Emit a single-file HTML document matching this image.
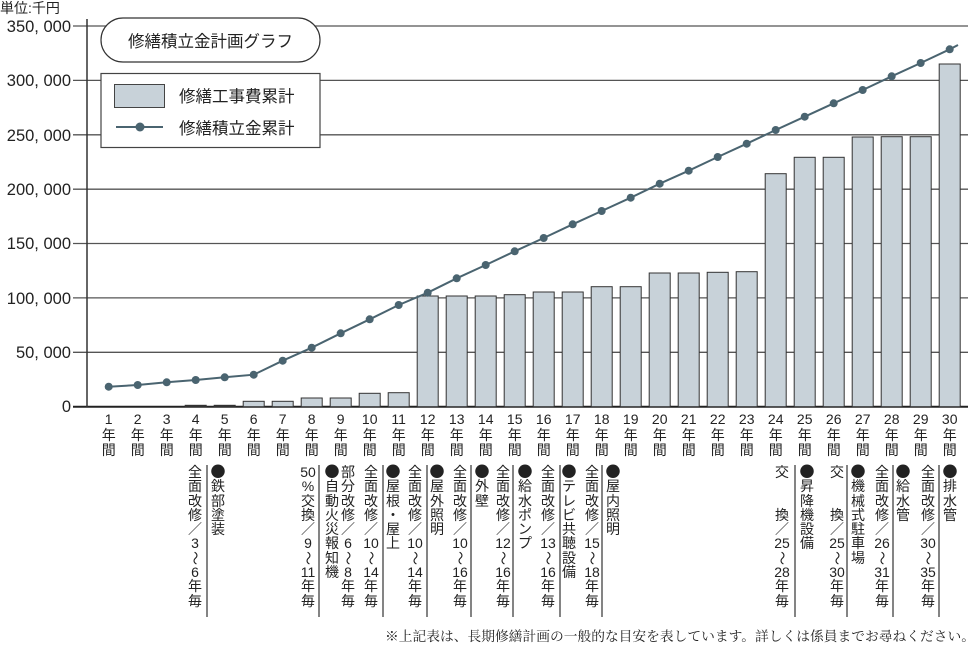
<!DOCTYPE html>
<html><head><meta charset="utf-8">
<style>
html,body{margin:0;padding:0;background:#fff;}
body{width:980px;height:647px;position:relative;overflow:hidden;font-family:"Liberation Sans","Noto Sans CJK JP",sans-serif;color:#222;}
svg{position:absolute;left:0;top:0;}
.col{position:absolute;top:465px;width:26px;margin-left:-13px;text-align:center;font-size:14px;line-height:14.3px;color:#222;}
.t{display:inline-block;transform:rotate(90deg);font-family:"Noto Sans CJK JP",sans-serif;}
.d{font-family:"Noto Sans CJK JP",sans-serif;font-size:15px;}
</style></head><body>
<svg width="980" height="647" viewBox="0 0 980 647" font-family="Liberation Sans, Noto Sans CJK JP, sans-serif">
<g stroke="#555" stroke-width="1.3">
<line x1="73" y1="26" x2="968" y2="26"/>
<line x1="73" y1="80.4" x2="968" y2="80.4"/>
<line x1="73" y1="134.8" x2="968" y2="134.8"/>
<line x1="73" y1="189.2" x2="968" y2="189.2"/>
<line x1="73" y1="243.5" x2="968" y2="243.5"/>
<line x1="73" y1="297.9" x2="968" y2="297.9"/>
<line x1="73" y1="352.3" x2="968" y2="352.3"/>
</g>
<line x1="73" y1="406.7" x2="968" y2="406.7" stroke="#222" stroke-width="2"/>
<line x1="87" y1="19" x2="87" y2="407" stroke="#333" stroke-width="1.5"/>
<g font-size="16.5" text-anchor="end" fill="#222">
<text x="71" y="32">350, 000</text>
<text x="71" y="86">300, 000</text>
<text x="71" y="141">250, 000</text>
<text x="71" y="195">200, 000</text>
<text x="71" y="249">150, 000</text>
<text x="71" y="304">100, 000</text>
<text x="71" y="358">50, 000</text>
<text x="71" y="412">0</text>
</g>
<text x="0" y="13" font-size="14" fill="#222">単位:千円</text>
<g fill="#c8d2d9" stroke="#333" stroke-width="1">
<rect x="185.2" y="405.3" width="21" height="1.4" fill="#333"/>
<rect x="214.2" y="405.3" width="21" height="1.4" fill="#333"/>
<rect x="243.2" y="401.3" width="21" height="5.4"/>
<rect x="272.2" y="401.3" width="21" height="5.4"/>
<rect x="301.2" y="398" width="21" height="8.7"/>
<rect x="330.2" y="398" width="21" height="8.7"/>
<rect x="359.2" y="393.3" width="21" height="13.4"/>
<rect x="388.2" y="392.7" width="21" height="14"/>
<rect x="417.2" y="296" width="21" height="110.7"/>
<rect x="446.2" y="296" width="21" height="110.7"/>
<rect x="475.2" y="296" width="21" height="110.7"/>
<rect x="504.2" y="294.7" width="21" height="112"/>
<rect x="533.2" y="292" width="21" height="114.7"/>
<rect x="562.2" y="292" width="21" height="114.7"/>
<rect x="591.2" y="286.7" width="21" height="120"/>
<rect x="620.2" y="286.7" width="21" height="120"/>
<rect x="649.2" y="273" width="21" height="133.7"/>
<rect x="678.2" y="273" width="21" height="133.7"/>
<rect x="707.2" y="272.3" width="21" height="134.4"/>
<rect x="736.2" y="271.7" width="21" height="135"/>
<rect x="765.2" y="173.7" width="21" height="233"/>
<rect x="794.2" y="157.3" width="21" height="249.4"/>
<rect x="823.2" y="157.3" width="21" height="249.4"/>
<rect x="852.2" y="137" width="21" height="269.7"/>
<rect x="881.2" y="136.7" width="21" height="270"/>
<rect x="910.2" y="136.7" width="21" height="270"/>
<rect x="939.2" y="64" width="21" height="342.7"/>
</g>
<polyline fill="none" stroke="#4a6470" stroke-width="2" points="108.7,386.7 137.7,385 166.7,382.3 195.7,380 224.7,377.3 253.7,374.7 282.7,360.7 311.7,347.7 340.7,333.3 369.7,319.3 398.7,305 427.7,292.7 456.7,278.3 485.7,265 514.7,251.3 543.7,238 572.7,224.3 601.7,211 630.7,197.7 659.7,183.7 688.7,170.7 717.7,157 746.7,143.7 775.7,130 804.7,116.7 833.7,103.3 862.7,90 891.7,76.3 920.7,63 949.7,49.3 958,45"/>
<g fill="#4a6470">
<circle cx="108.7" cy="386.7" r="4"/><circle cx="137.7" cy="385" r="4"/><circle cx="166.7" cy="382.3" r="4"/><circle cx="195.7" cy="380" r="4"/><circle cx="224.7" cy="377.3" r="4"/><circle cx="253.7" cy="374.7" r="4"/><circle cx="282.7" cy="360.7" r="4"/><circle cx="311.7" cy="347.7" r="4"/><circle cx="340.7" cy="333.3" r="4"/><circle cx="369.7" cy="319.3" r="4"/><circle cx="398.7" cy="305" r="4"/><circle cx="427.7" cy="292.7" r="4"/><circle cx="456.7" cy="278.3" r="4"/><circle cx="485.7" cy="265" r="4"/><circle cx="514.7" cy="251.3" r="4"/><circle cx="543.7" cy="238" r="4"/><circle cx="572.7" cy="224.3" r="4"/><circle cx="601.7" cy="211" r="4"/><circle cx="630.7" cy="197.7" r="4"/><circle cx="659.7" cy="183.7" r="4"/><circle cx="688.7" cy="170.7" r="4"/><circle cx="717.7" cy="157" r="4"/><circle cx="746.7" cy="143.7" r="4"/><circle cx="775.7" cy="130" r="4"/><circle cx="804.7" cy="116.7" r="4"/><circle cx="833.7" cy="103.3" r="4"/><circle cx="862.7" cy="90" r="4"/><circle cx="891.7" cy="76.3" r="4"/><circle cx="920.7" cy="63" r="4"/><circle cx="949.7" cy="49.3" r="4"/>
</g>
<rect x="101" y="18" width="219" height="44" rx="22" ry="22" fill="#fff" stroke="#333" stroke-width="1.2"/>
<text x="210.5" y="47" font-size="16.5" text-anchor="middle" fill="#222">修繕積立金計画グラフ</text>
<rect x="101" y="73.5" width="219" height="74" fill="#fff" stroke="#444" stroke-width="1.2"/>
<rect x="114.5" y="84.5" width="50" height="23" fill="#c8d2d9" stroke="#444" stroke-width="1"/>
<text x="179" y="102" font-size="16.5" fill="#222">修繕工事費累計</text>
<line x1="116" y1="127" x2="163" y2="127" stroke="#4a6470" stroke-width="2"/>
<circle cx="140" cy="127" r="4.5" fill="#4a6470"/>
<text x="179" y="134" font-size="16.5" fill="#222">修繕積立金累計</text>
<g font-size="14" text-anchor="middle" fill="#222">
<text x="108.7" y="424">1</text><text x="137.7" y="424">2</text><text x="166.7" y="424">3</text><text x="195.7" y="424">4</text><text x="224.7" y="424">5</text><text x="253.7" y="424">6</text><text x="282.7" y="424">7</text><text x="311.7" y="424">8</text><text x="340.7" y="424">9</text><text x="369.7" y="424">10</text><text x="398.7" y="424">11</text><text x="427.7" y="424">12</text><text x="456.7" y="424">13</text><text x="485.7" y="424">14</text><text x="514.7" y="424">15</text><text x="543.7" y="424">16</text><text x="572.7" y="424">17</text><text x="601.7" y="424">18</text><text x="630.7" y="424">19</text><text x="659.7" y="424">20</text><text x="688.7" y="424">21</text><text x="717.7" y="424">22</text><text x="746.7" y="424">23</text><text x="775.7" y="424">24</text><text x="804.7" y="424">25</text><text x="833.7" y="424">26</text><text x="862.7" y="424">27</text><text x="891.7" y="424">28</text><text x="920.7" y="424">29</text><text x="949.7" y="424">30</text>
</g>
<g font-size="14" text-anchor="middle" fill="#222">
<text x="108.7" y="440">年</text><text x="137.7" y="440">年</text><text x="166.7" y="440">年</text><text x="195.7" y="440">年</text><text x="224.7" y="440">年</text><text x="253.7" y="440">年</text><text x="282.7" y="440">年</text><text x="311.7" y="440">年</text><text x="340.7" y="440">年</text><text x="369.7" y="440">年</text><text x="398.7" y="440">年</text><text x="427.7" y="440">年</text><text x="456.7" y="440">年</text><text x="485.7" y="440">年</text><text x="514.7" y="440">年</text><text x="543.7" y="440">年</text><text x="572.7" y="440">年</text><text x="601.7" y="440">年</text><text x="630.7" y="440">年</text><text x="659.7" y="440">年</text><text x="688.7" y="440">年</text><text x="717.7" y="440">年</text><text x="746.7" y="440">年</text><text x="775.7" y="440">年</text><text x="804.7" y="440">年</text><text x="833.7" y="440">年</text><text x="862.7" y="440">年</text><text x="891.7" y="440">年</text><text x="920.7" y="440">年</text><text x="949.7" y="440">年</text>
<text x="108.7" y="455">間</text><text x="137.7" y="455">間</text><text x="166.7" y="455">間</text><text x="195.7" y="455">間</text><text x="224.7" y="455">間</text><text x="253.7" y="455">間</text><text x="282.7" y="455">間</text><text x="311.7" y="455">間</text><text x="340.7" y="455">間</text><text x="369.7" y="455">間</text><text x="398.7" y="455">間</text><text x="427.7" y="455">間</text><text x="456.7" y="455">間</text><text x="485.7" y="455">間</text><text x="514.7" y="455">間</text><text x="543.7" y="455">間</text><text x="572.7" y="455">間</text><text x="601.7" y="455">間</text><text x="630.7" y="455">間</text><text x="659.7" y="455">間</text><text x="688.7" y="455">間</text><text x="717.7" y="455">間</text><text x="746.7" y="455">間</text><text x="775.7" y="455">間</text><text x="804.7" y="455">間</text><text x="833.7" y="455">間</text><text x="862.7" y="455">間</text><text x="891.7" y="455">間</text><text x="920.7" y="455">間</text><text x="949.7" y="455">間</text>
</g>
<g stroke="#333" stroke-width="1.2">
<line x1="207" y1="465" x2="207" y2="617"/><line x1="319" y1="465" x2="319" y2="617"/><line x1="383" y1="465" x2="383" y2="617"/><line x1="427" y1="465" x2="427" y2="617"/><line x1="471" y1="465" x2="471" y2="617"/><line x1="513" y1="465" x2="513" y2="617"/><line x1="560" y1="465" x2="560" y2="617"/><line x1="602" y1="465" x2="602" y2="617"/><line x1="795" y1="465" x2="795" y2="617"/><line x1="847" y1="465" x2="847" y2="617"/><line x1="893" y1="465" x2="893" y2="617"/><line x1="939" y1="465" x2="939" y2="617"/>
</g>
<text x="975" y="641" font-size="13.4" text-anchor="end" textLength="590" lengthAdjust="spacingAndGlyphs" font-family="Liberation Serif, Noto Serif CJK SC, serif" fill="#222">※上記表は、長期修繕計画の一般的な目安を表しています。詳しくは係員までお尋ねください。</text>
</svg>
<div class="col" style="left:195px">全<br>面<br>改<br>修<br>／<br>3<br><span class="t">～</span><br>6<br>年<br>毎</div>
<div class="col" style="left:218px"><span class="d">●</span><br>鉄<br>部<br>塗<br>装</div>
<div class="col" style="left:308px">50<br>%<br>交<br>換<br>／<br>9<br><span class="t">～</span><br>11<br>年<br>毎</div>
<div class="col" style="left:332px"><span class="d">●</span><br>自<br>動<br>火<br>災<br>報<br>知<br>機</div>
<div class="col" style="left:348px">部<br>分<br>改<br>修<br>／<br>6<br><span class="t">～</span><br>8<br>年<br>毎</div>
<div class="col" style="left:371px">全<br>面<br>改<br>修<br>／<br>10<br><span class="t">～</span><br>14<br>年<br>毎</div>
<div class="col" style="left:393px"><span class="d">●</span><br>屋<br>根<br>・<br>屋<br>上</div>
<div class="col" style="left:415px">全<br>面<br>改<br>修<br>／<br>10<br><span class="t">～</span><br>14<br>年<br>毎</div>
<div class="col" style="left:437px"><span class="d">●</span><br>屋<br>外<br>照<br>明</div>
<div class="col" style="left:460px">全<br>面<br>改<br>修<br>／<br>10<br><span class="t">～</span><br>16<br>年<br>毎</div>
<div class="col" style="left:482px"><span class="d">●</span><br>外<br>壁</div>
<div class="col" style="left:503px">全<br>面<br>改<br>修<br>／<br>12<br><span class="t">～</span><br>16<br>年<br>毎</div>
<div class="col" style="left:525px"><span class="d">●</span><br>給<br>水<br>ポ<br>ン<br>プ</div>
<div class="col" style="left:548px">全<br>面<br>改<br>修<br>／<br>13<br><span class="t">～</span><br>16<br>年<br>毎</div>
<div class="col" style="left:569px"><span class="d">●</span><br>テ<br>レ<br>ビ<br>共<br>聴<br>設<br>備</div>
<div class="col" style="left:592px">全<br>面<br>改<br>修<br>／<br>15<br><span class="t">～</span><br>18<br>年<br>毎</div>
<div class="col" style="left:613px"><span class="d">●</span><br>屋<br>内<br>照<br>明</div>
<div class="col" style="left:782px">交<br>&nbsp;<br>&nbsp;<br>換<br>／<br>25<br><span class="t">～</span><br>28<br>年<br>毎</div>
<div class="col" style="left:807px"><span class="d">●</span><br>昇<br>降<br>機<br>設<br>備</div>
<div class="col" style="left:837px">交<br>&nbsp;<br>&nbsp;<br>換<br>／<br>25<br><span class="t">～</span><br>30<br>年<br>毎</div>
<div class="col" style="left:858px"><span class="d">●</span><br>機<br>械<br>式<br>駐<br>車<br>場</div>
<div class="col" style="left:882px">全<br>面<br>改<br>修<br>／<br>26<br><span class="t">～</span><br>31<br>年<br>毎</div>
<div class="col" style="left:903px"><span class="d">●</span><br>給<br>水<br>管</div>
<div class="col" style="left:928px">全<br>面<br>改<br>修<br>／<br>30<br><span class="t">～</span><br>35<br>年<br>毎</div>
<div class="col" style="left:950px"><span class="d">●</span><br>排<br>水<br>管</div>
</body></html>
